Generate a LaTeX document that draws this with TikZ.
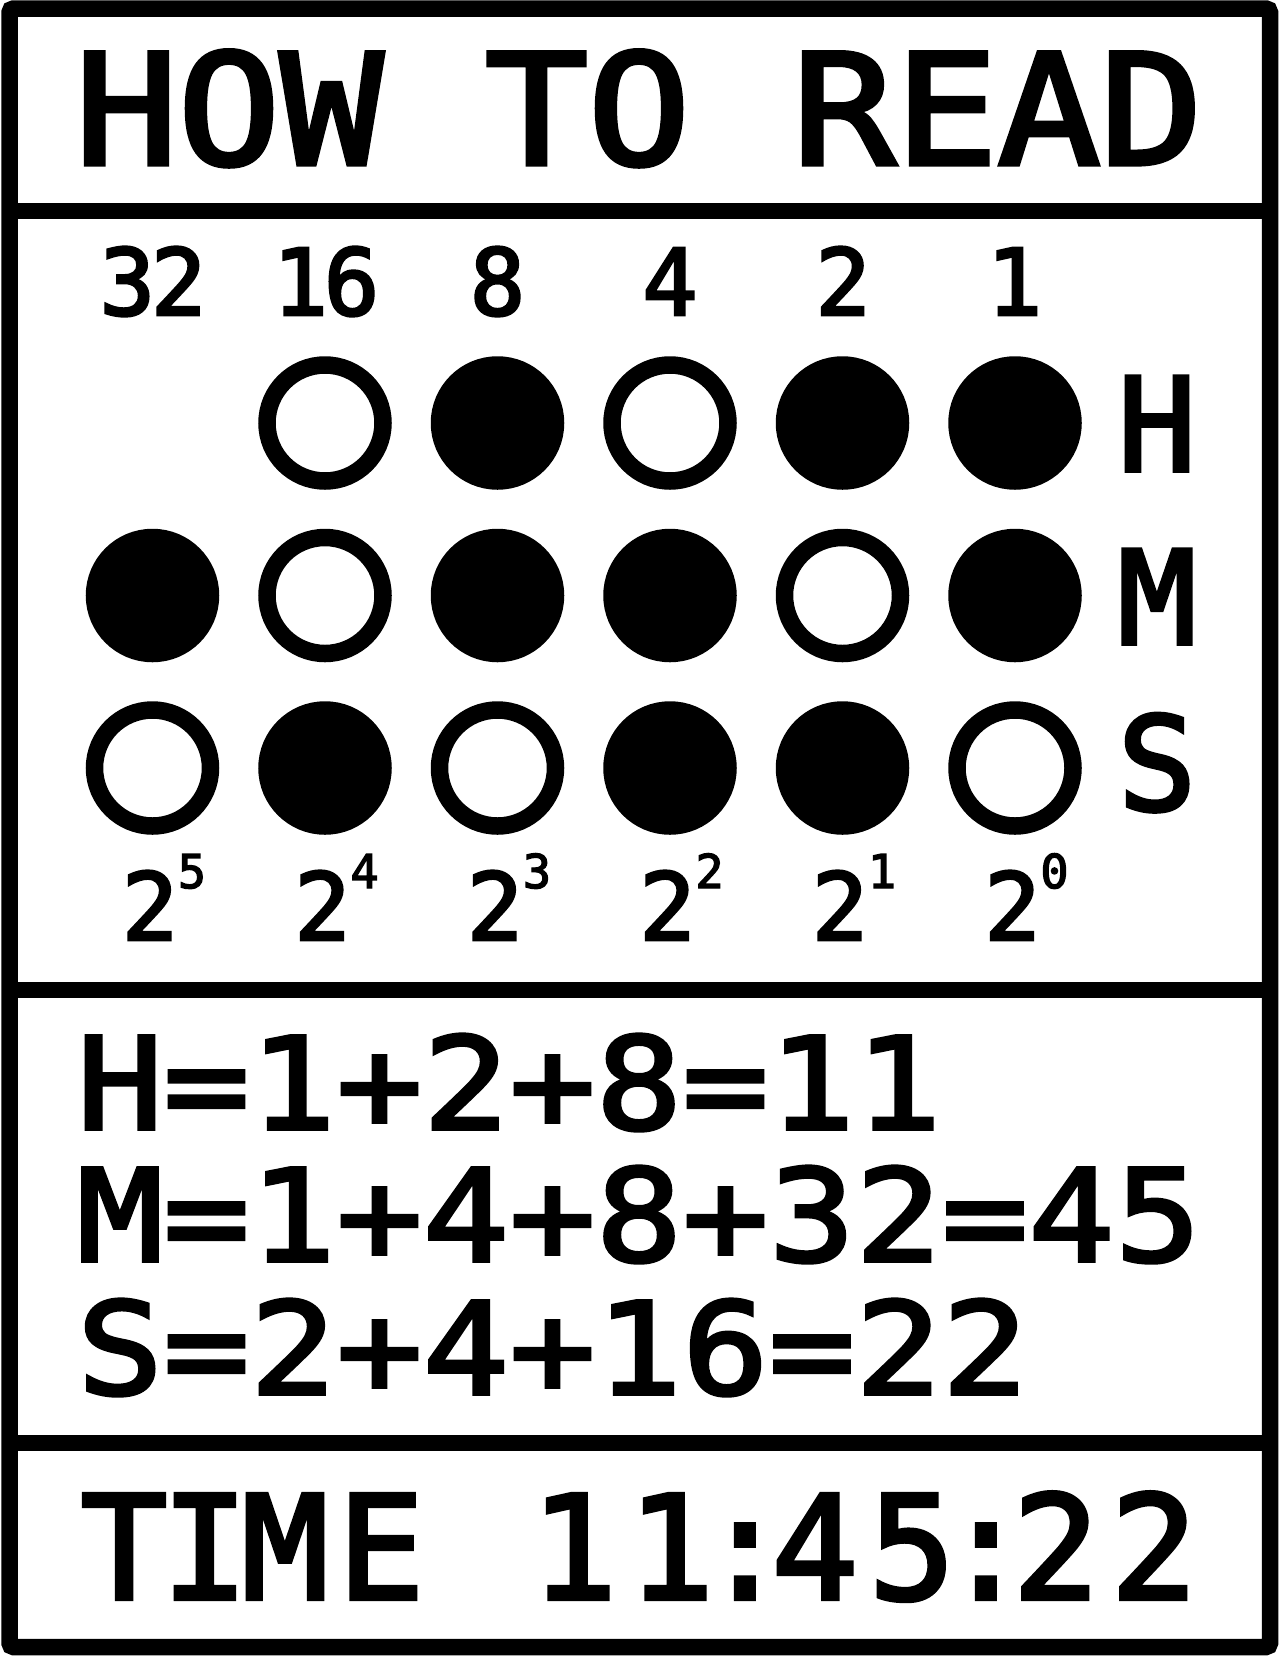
\documentclass[tikz,border=0pt]{standalone}
\usepackage{fontspec}
\newfontfamily\monowide[FakeStretch=1.12,FakeBold=3]{DejaVu Sans Mono}
\newfontfamily\mononarrow[FakeBold=3]{DejaVu Sans Mono}
\newcommand\fs[1]{\monowide\fontsize{#1}{#1}\selectfont}
\newcommand\fn[1]{\mononarrow\fontsize{#1}{#1}\selectfont}
\begin{document}
\begin{tikzpicture}[x=1pt,y=-1pt,
  txt/.style={inner sep=0pt, outer sep=0pt, anchor=base, text=black},
  frameline/.style={line width=16.5pt, draw=black},
  bitcell/.style={circle, draw=black, line width=17.5pt, minimum size=116pt, inner sep=0pt}]
\fill[white] (0,0) rectangle (1280,1658);
\useasboundingbox (0,0) rectangle (1280,1658);
% frame and separators
\draw[frameline, rounded corners=4pt] (9.5,8.5) rectangle (1270,1647);
\draw[frameline] (9.5,211) -- (1270,211);
\draw[frameline] (9.5,990) -- (1270,990);
\draw[frameline] (9.5,1443) -- (1270,1443);
% title
\foreach \ch/\x [count=\k] in {H/126.5,O/229,W/331.5,T/536.5,O/639,R/844,E/946.5,A/1049,D/1151.5}
  \node[txt,font=\fs{153.6}] (title\k) at (\x,164.3) {\ch};
% place values
\foreach \ch/\x [count=\k] in {3/127.4,2/178.6,1/300.4,6/351.6,8/497.5,4/670,2/843,1/1014.5}
  \node[txt,font=\fn{92}] (val\k) at (\x,315) {\ch};
% bits
\foreach \c/\f in {2/white,3/black,4/white,5/black,6/black}
  \node[bitcell,fill=\f] (hbit\c) at ({152.5+172.5*(\c-1)},423) {};
\foreach \c/\f in {1/black,2/white,3/black,4/black,5/white,6/black}
  \node[bitcell,fill=\f] (mbit\c) at ({152.5+172.5*(\c-1)},595.5) {};
\foreach \c/\f in {1/white,2/black,3/white,4/black,5/black,6/white}
  \node[bitcell,fill=\f] (sbit\c) at ({152.5+172.5*(\c-1)},768) {};
% row labels
\node[txt,font=\fn{130}] (labH) at (1157,471) {H};
\node[txt,font=\fn{130}] (labM) at (1157,644) {M};
\node[txt,font=\fn{130}] (labS) at (1157,810) {S};
% powers
\foreach \e [count=\k from 0] in {5,4,3,2,1,0} {
  \node[txt,font=\fn{93.3}] (base\k) at ({150+172.5*\k},940) {2};
  \node[txt,font=\fn{46.6}] (expo\k) at ({192+172.5*\k},888) {\e};
}
% equations
\foreach \ch [count=\k from 0] in {H,=,1,+,2,+,8,=,1,1}
  \node[txt,font=\fs{127.6}] (eqh\k) at ({120+86.5*\k},1129) {\ch};
\foreach \ch [count=\k from 0] in {M,=,1,+,4,+,8,+,3,2,=,4,5}
  \node[txt,font=\fs{127.6}] (eqm\k) at ({120+86.5*\k},1261) {\ch};
\foreach \ch [count=\k from 0] in {S,=,2,+,4,+,1,6,=,2,2}
  \node[txt,font=\fs{127.6}] (eqs\k) at ({120+86.5*\k},1394) {\ch};
% time
\foreach \ch/\x [count=\k] in {T/124,I/205,M/285,E/381,1/574,1/671,:/745,4/815,5/912,:/986,2/1056,2/1154}
  \node[txt,font=\fn{144}] (time\k) at (\x,1599) {\ch};
\end{tikzpicture}
\end{document}
